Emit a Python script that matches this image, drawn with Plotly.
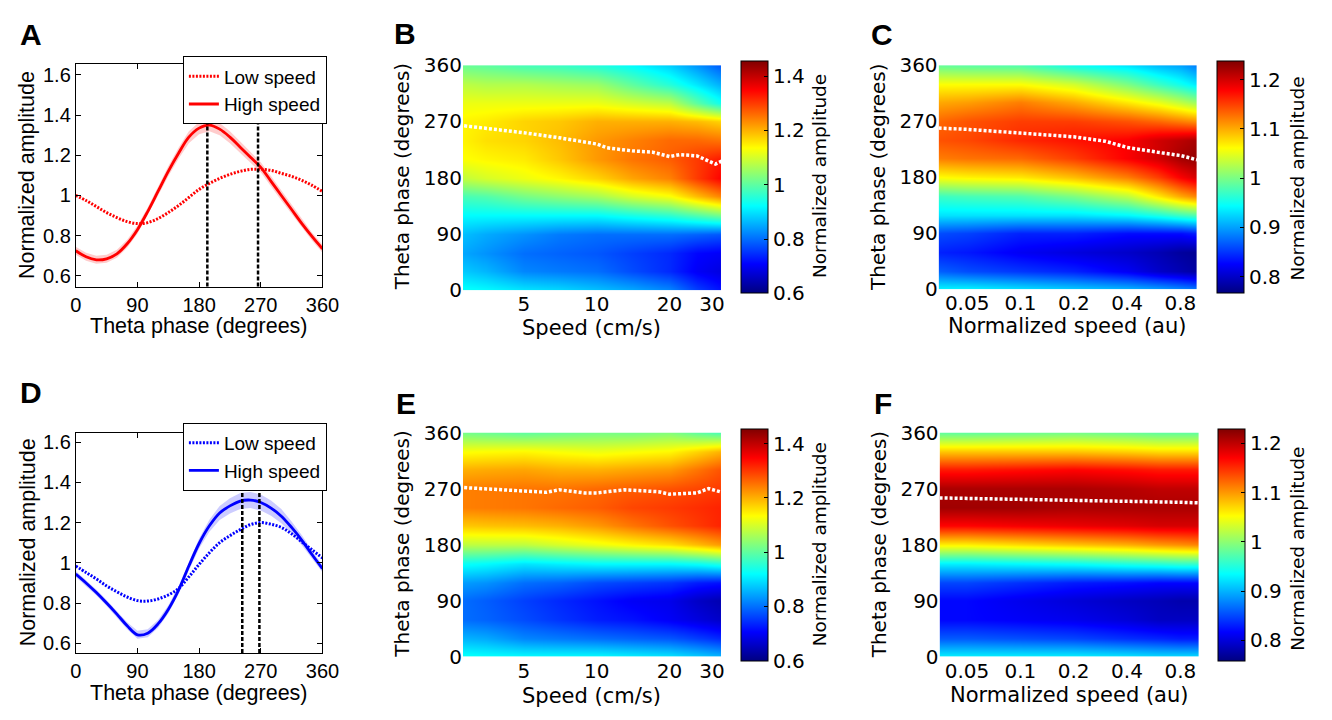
import math
import plotly.graph_objects as go

W, H = 1332, 720

# ---------------- line-plot data (panels A and D) ----------------
PHASE_DEG = [0, 15, 30, 45, 60, 75, 90, 105, 120, 135, 150, 165, 180,
             195, 210, 225, 240, 255, 270, 285, 300, 315, 330, 345, 360]

A_LOW = [1.00, 0.975, 0.945, 0.915, 0.89, 0.87, 0.86, 0.865, 0.885, 0.915, 0.95, 0.99, 1.03,
         1.06, 1.085, 1.105, 1.12, 1.13, 1.13, 1.125, 1.11, 1.095, 1.075, 1.05, 1.02]
A_HIGH = [0.725, 0.695, 0.68, 0.685, 0.71, 0.76, 0.83, 0.92, 1.02, 1.12, 1.21, 1.29, 1.335,
          1.35, 1.33, 1.29, 1.24, 1.19, 1.14, 1.07, 1.00, 0.93, 0.86, 0.795, 0.735]
A_HIGH_SEM = [0.02, 0.02, 0.02, 0.02, 0.02, 0.02, 0.02, 0.02, 0.022, 0.025, 0.027, 0.03, 0.03,
              0.03, 0.03, 0.03, 0.028, 0.027, 0.025, 0.025, 0.025, 0.022, 0.02, 0.02, 0.02]
A_PEAKS = [192, 266]

D_LOW = [0.984, 0.952, 0.92, 0.885, 0.856, 0.83, 0.812, 0.81, 0.82, 0.84, 0.872, 0.93, 0.992,
         1.05, 1.10, 1.135, 1.165, 1.19, 1.20, 1.192, 1.176, 1.144, 1.104, 1.064, 1.024]
D_HIGH = [0.944, 0.90, 0.852, 0.80, 0.745, 0.687, 0.642, 0.65, 0.696, 0.768, 0.864, 0.984, 1.096,
          1.184, 1.248, 1.283, 1.307, 1.312, 1.30, 1.272, 1.232, 1.176, 1.112, 1.04, 0.971]
D_HIGH_SEM = [0.015, 0.015, 0.015, 0.015, 0.017, 0.018, 0.02, 0.02, 0.02, 0.02, 0.02, 0.022, 0.025,
              0.03, 0.035, 0.038, 0.04, 0.04, 0.04, 0.038, 0.035, 0.03, 0.025, 0.02, 0.018]
D_PEAKS = [243, 268]

PHASE_TICKS = [0, 90, 180, 270, 360]
AMP_TICKS = [0.6, 0.8, 1.0, 1.2, 1.4, 1.6]
AMP_TICK_TEXT = ["0.6", "0.8", "1", "1.2", "1.4", "1.6"]

# ---------------- heat-map data (panels B, C, E, F) ----------------
HEAT_PHASE = [0, 30, 60, 90, 120, 150, 180, 210, 240, 270, 300, 330, 360]

SPEED_CM = [2.7, 3.5, 5, 7, 10, 14, 20, 26, 33]
# one list per speed column, values ordered by HEAT_PHASE
B_COLS = [
    [0.93, 0.88, 0.85, 0.87, 0.92, 0.98, 1.08, 1.13, 1.14, 1.14, 1.12, 1.08, 1.01],
    [0.92, 0.86, 0.83, 0.85, 0.92, 0.99, 1.10, 1.14, 1.16, 1.15, 1.12, 1.07, 1.00],
    [0.90, 0.82, 0.80, 0.83, 0.92, 1.02, 1.12, 1.15, 1.17, 1.17, 1.12, 1.07, 0.98],
    [0.89, 0.81, 0.79, 0.81, 0.92, 1.04, 1.14, 1.18, 1.19, 1.18, 1.12, 1.06, 0.97],
    [0.87, 0.80, 0.78, 0.80, 0.92, 1.06, 1.17, 1.22, 1.22, 1.20, 1.12, 1.05, 0.95],
    [0.85, 0.77, 0.76, 0.80, 0.94, 1.10, 1.21, 1.25, 1.24, 1.20, 1.10, 1.00, 0.92],
    [0.82, 0.74, 0.74, 0.80, 0.96, 1.13, 1.24, 1.27, 1.26, 1.20, 1.08, 0.95, 0.88],
    [0.76, 0.70, 0.71, 0.79, 0.99, 1.19, 1.30, 1.30, 1.26, 1.19, 1.00, 0.90, 0.83],
    [0.72, 0.68, 0.70, 0.78, 1.02, 1.24, 1.35, 1.33, 1.25, 1.17, 0.93, 0.85, 0.78],
]
B_PEAK_SPEED = [2.7, 3.5, 5, 7, 10, 11, 14, 17, 20, 22, 26, 31, 33]
B_PEAK_PHASE = [264, 259, 252, 244, 234, 228, 223, 221, 214, 217, 215, 202, 207]

E_COLS = [
    [0.93, 0.86, 0.80, 0.80, 0.84, 0.93, 1.08, 1.18, 1.24, 1.24, 1.20, 1.13, 1.02],
    [0.925, 0.85, 0.79, 0.785, 0.83, 0.92, 1.08, 1.185, 1.245, 1.245, 1.205, 1.135, 1.01],
    [0.92, 0.82, 0.77, 0.76, 0.80, 0.90, 1.08, 1.19, 1.25, 1.25, 1.21, 1.14, 1.00],
    [0.92, 0.81, 0.75, 0.74, 0.79, 0.91, 1.10, 1.20, 1.26, 1.25, 1.20, 1.13, 1.01],
    [0.92, 0.80, 0.73, 0.72, 0.77, 0.92, 1.12, 1.22, 1.27, 1.26, 1.20, 1.12, 1.02],
    [0.91, 0.79, 0.72, 0.70, 0.76, 0.92, 1.14, 1.25, 1.29, 1.27, 1.21, 1.13, 1.02],
    [0.90, 0.78, 0.70, 0.69, 0.75, 0.92, 1.16, 1.28, 1.30, 1.28, 1.22, 1.14, 1.03],
    [0.88, 0.76, 0.68, 0.66, 0.73, 0.93, 1.19, 1.30, 1.31, 1.29, 1.25, 1.17, 1.00],
    [0.86, 0.74, 0.66, 0.64, 0.72, 0.95, 1.22, 1.32, 1.32, 1.30, 1.28, 1.20, 0.98],
]
E_PEAK_SPEED = [2.7, 5, 6.2, 7, 8.9, 10, 13, 18, 20, 26, 29, 33]
E_PEAK_PHASE = [272, 267, 264, 268, 263, 263, 268, 265, 261, 263, 270, 264]

NSPEED = [0.034, 0.05, 0.1, 0.2, 0.4, 0.6, 0.8, 1.02]
C_COLS = [
    [0.94, 0.87, 0.84, 0.86, 0.93, 0.97, 1.06, 1.12, 1.14, 1.13, 1.10, 1.06, 0.99],
    [0.94, 0.86, 0.835, 0.855, 0.93, 0.975, 1.065, 1.125, 1.145, 1.14, 1.105, 1.06, 0.985],
    [0.93, 0.85, 0.82, 0.84, 0.93, 0.98, 1.07, 1.13, 1.16, 1.15, 1.12, 1.06, 0.98],
    [0.92, 0.84, 0.81, 0.84, 0.93, 1.00, 1.09, 1.15, 1.17, 1.15, 1.10, 1.04, 0.95],
    [0.91, 0.82, 0.80, 0.83, 0.94, 1.03, 1.12, 1.18, 1.18, 1.14, 1.07, 1.00, 0.93],
    [0.90, 0.80, 0.79, 0.83, 0.955, 1.07, 1.15, 1.20, 1.20, 1.13, 1.05, 0.97, 0.91],
    [0.89, 0.79, 0.78, 0.83, 0.97, 1.10, 1.18, 1.22, 1.21, 1.12, 1.03, 0.95, 0.90],
    [0.88, 0.78, 0.775, 0.84, 0.98, 1.12, 1.20, 1.23, 1.22, 1.11, 1.01, 0.93, 0.88],
]
C_PEAK_SPEED = [0.0345, 0.05, 0.1, 0.2, 0.3, 0.4, 0.6, 0.8, 0.993]
C_PEAK_PHASE = [259, 257, 251, 245, 238, 228, 220, 215, 208]

F_COLS = [
    [0.93, 0.86, 0.82, 0.82, 0.85, 0.93, 1.06, 1.17, 1.215, 1.21, 1.16, 1.08, 0.98],
    [0.93, 0.86, 0.82, 0.82, 0.85, 0.93, 1.06, 1.17, 1.215, 1.21, 1.16, 1.08, 0.98],
    [0.93, 0.855, 0.815, 0.81, 0.84, 0.935, 1.07, 1.175, 1.215, 1.21, 1.165, 1.08, 0.985],
    [0.93, 0.85, 0.81, 0.80, 0.83, 0.94, 1.08, 1.18, 1.21, 1.21, 1.17, 1.08, 0.99],
    [0.925, 0.84, 0.80, 0.79, 0.825, 0.95, 1.09, 1.185, 1.21, 1.205, 1.165, 1.075, 0.985],
    [0.92, 0.835, 0.79, 0.785, 0.82, 0.955, 1.10, 1.19, 1.21, 1.20, 1.16, 1.07, 0.98],
    [0.92, 0.83, 0.79, 0.78, 0.82, 0.96, 1.105, 1.19, 1.21, 1.20, 1.16, 1.07, 0.98],
    [0.92, 0.83, 0.79, 0.78, 0.82, 0.96, 1.11, 1.19, 1.21, 1.20, 1.16, 1.07, 0.98],
]
F_PEAK_SPEED = [0.035, 0.1, 0.2, 0.4, 0.8, 1.02]
F_PEAK_PHASE = [255, 253, 252, 250, 248, 247]

SPEED_TICKS = [5, 10, 20, 30]
NSPEED_TICKS = [0.05, 0.1, 0.2, 0.4, 0.8]
NSPEED_TICK_TEXT = ["0.05", "0.1", "0.2", "0.4", "0.8"]
CB1_TICKS = [0.6, 0.8, 1.0, 1.2, 1.4]
CB1_TEXT = ["0.6", "0.8", "1", "1.2", "1.4"]
CB2_TICKS = [0.8, 0.9, 1.0, 1.1, 1.2]
CB2_TEXT = ["0.8", "0.9", "1", "1.1", "1.2"]

JET = [[0.0, "rgb(0,0,128)"], [0.125, "rgb(0,0,255)"], [0.375, "rgb(0,255,255)"],
       [0.625, "rgb(255,255,0)"], [0.875, "rgb(255,0,0)"], [1.0, "rgb(128,0,0)"]]

ARIAL = "Liberation Sans"
WIDE = "DejaVu Sans"


def xd(x0, x1):
    return [x0 / W, x1 / W]


def yd(y0, y1):
    return [1 - y1 / H, 1 - y0 / H]


def transpose(cols):
    return [list(r) for r in zip(*cols)]


fig = go.Figure()

# ---------------- line panels ----------------
def line_panel(low, high, sem, color, band, xa, ya, legend):
    upper = [h + s for h, s in zip(high, sem)]
    lower = [h - s for h, s in zip(high, sem)]
    fig.add_trace(go.Scatter(x=PHASE_DEG + PHASE_DEG[::-1], y=upper + lower[::-1],
                             fill="toself", fillcolor=band, line=dict(width=0),
                             mode="lines", showlegend=False, hoverinfo="skip",
                             xaxis=xa, yaxis=ya))
    fig.add_trace(go.Scatter(x=PHASE_DEG, y=low, mode="lines", name="Low speed",
                             line=dict(color=color, width=3, dash="2px,1.5px", shape="spline"),
                             xaxis=xa, yaxis=ya, legend=legend))
    fig.add_trace(go.Scatter(x=PHASE_DEG, y=high, mode="lines", name="High speed",
                             line=dict(color=color, width=2.8, shape="spline"),
                             xaxis=xa, yaxis=ya, legend=legend))


line_panel(A_LOW, A_HIGH, A_HIGH_SEM, "rgb(255,0,0)", "rgba(255,0,0,0.2)", "x", "y", "legend")
line_panel(D_LOW, D_HIGH, D_HIGH_SEM, "rgb(0,0,255)", "rgba(0,0,255,0.2)", "x4", "y4", "legend2")

shapes = []
for xv in A_PEAKS:
    shapes.append(dict(type="line", xref="x", yref="y domain", x0=xv, x1=xv, y0=0, y1=1,
                       line=dict(color="black", width=2.5, dash="4px,2px")))
for xv in D_PEAKS:
    shapes.append(dict(type="line", xref="x4", yref="y4 domain", x0=xv, x1=xv, y0=0, y1=1,
                       line=dict(color="black", width=2.5, dash="4px,2px")))


# ---------------- heat maps ----------------
def heat_panel(xs, cols, zmin, zmax, xa, ya, cb_x, cb_y0, cb_y1, cbt, cbtext, px, py):
    fig.add_trace(go.Heatmap(x=xs, y=HEAT_PHASE, z=transpose(cols), zsmooth="best",
                             colorscale=JET, zmin=zmin, zmax=zmax, xaxis=xa, yaxis=ya,
                             colorbar=dict(x=cb_x / W, xanchor="left", xpad=0, ypad=0,
                                           y=1 - (cb_y0 + cb_y1) / 2 / H, yanchor="middle",
                                           len=cb_y1 - cb_y0, lenmode="pixels",
                                           thickness=27, thicknessmode="pixels",
                                           outlinecolor="black", outlinewidth=1,
                                           ticks="inside", ticklen=4, tickcolor="black",
                                           tickvals=cbt, ticktext=cbtext,
                                           tickfont=dict(family=WIDE, size=20, color="black"))))
    fig.add_trace(go.Scatter(x=px, y=py, mode="lines", showlegend=False,
                             line=dict(color="white", width=3.5, dash="3px,2px"),
                             xaxis=xa, yaxis=ya))


heat_panel(SPEED_CM, B_COLS, 0.6, 1.455, "x2", "y2", 748, 55, 287, CB1_TICKS, CB1_TEXT,
           B_PEAK_SPEED, B_PEAK_PHASE)
heat_panel(NSPEED, C_COLS, 0.766, 1.237, "x3", "y3", 1232, 55, 287, CB2_TICKS, CB2_TEXT,
           C_PEAK_SPEED, C_PEAK_PHASE)
heat_panel(SPEED_CM, E_COLS, 0.6, 1.455, "x5", "y5", 748, 435, 667, CB1_TICKS, CB1_TEXT,
           E_PEAK_SPEED, E_PEAK_PHASE)
heat_panel(NSPEED, F_COLS, 0.759, 1.23, "x6", "y6", 1233, 435, 667, CB2_TICKS, CB2_TEXT,
           F_PEAK_SPEED, F_PEAK_PHASE)

# ---------------- axes ----------------
line_axis = dict(showline=True, linecolor="black", linewidth=1, mirror="ticks",
                 ticks="inside", ticklen=5, tickcolor="black", showgrid=False, zeroline=False,
                 tickfont=dict(family=ARIAL, size=20, color="black"))
heat_axis = dict(showline=False, ticks="", showgrid=False, zeroline=False,
                 tickfont=dict(family=WIDE, size=20, color="black"))

fig.update_layout(
    xaxis=dict(domain=xd(71, 322), range=[0, 360], tickvals=PHASE_TICKS, anchor="y", **line_axis),
    yaxis=dict(domain=yd(54, 284), range=[0.547, 1.653], tickvals=AMP_TICKS,
               ticktext=AMP_TICK_TEXT, anchor="x", **line_axis),
    xaxis4=dict(domain=xd(71, 322), range=[0, 360], tickvals=PHASE_TICKS, anchor="y4", **line_axis),
    yaxis4=dict(domain=yd(435, 663), range=[0.552, 1.648], tickvals=AMP_TICKS,
                ticktext=AMP_TICK_TEXT, anchor="x4", **line_axis),
    xaxis2=dict(domain=xd(465, 728), type="log", range=[math.log10(2.8), math.log10(32.8)],
                tickvals=SPEED_TICKS, anchor="y2", **heat_axis),
    yaxis2=dict(domain=yd(55, 288), range=[0, 360], tickvals=PHASE_TICKS, anchor="x2", **heat_axis),
    xaxis5=dict(domain=xd(465, 728), type="log", range=[math.log10(2.8), math.log10(32.8)],
                tickvals=SPEED_TICKS, anchor="y5", **heat_axis),
    yaxis5=dict(domain=yd(435, 667), range=[0, 360], tickvals=PHASE_TICKS, anchor="x5", **heat_axis),
    xaxis3=dict(domain=xd(949, 1212), type="log", range=[math.log10(0.0345), math.log10(0.993)],
                tickvals=NSPEED_TICKS, ticktext=NSPEED_TICK_TEXT, anchor="y3", **heat_axis),
    yaxis3=dict(domain=yd(55, 287), range=[0, 360], tickvals=PHASE_TICKS, anchor="x3", **heat_axis),
    xaxis6=dict(domain=xd(950, 1214), type="log", range=[math.log10(0.035), math.log10(1.02)],
                tickvals=NSPEED_TICKS, ticktext=NSPEED_TICK_TEXT, anchor="y6", **heat_axis),
    yaxis6=dict(domain=yd(435, 667), range=[0, 360], tickvals=PHASE_TICKS, anchor="x6", **heat_axis),
)

legend_style = dict(bgcolor="white", bordercolor="black", borderwidth=1,
                    font=dict(family=ARIAL, size=19, color="black"),
                    xanchor="left", yanchor="top", tracegroupgap=0, itemwidth=30)
fig.update_layout(
    legend=dict(x=180 / W, y=1 - 46 / H, **legend_style),
    legend2=dict(x=180 / W, y=1 - 425 / H, **legend_style),
)

# ---------------- text annotations ----------------
ann = []


def text(t, x, y, family, size, angle=0, bold=False):
    ann.append(dict(text=("<b>%s</b>" % t) if bold else t, x=x / W, y=1 - y / H,
                    xref="paper", yref="paper", showarrow=False, textangle=angle,
                    xanchor="center", yanchor="middle",
                    font=dict(family=family, size=size, color="black")))


for letter, lx, ly in [("A", 25, 23), ("B", 406, 22), ("C", 891, 23),
                       ("D", 25, 394), ("E", 407, 405), ("F", 892, 405)]:
    text(letter, lx, ly, ARIAL, 30, bold=True)

text("Theta phase (degrees)", 196, 325, ARIAL, 21.5)
text("Normalized amplitude", 22, 169, ARIAL, 21.5, angle=-90)
text("Theta phase (degrees)", 196, 704, ARIAL, 21.5)
text("Normalized amplitude", 22, 549, ARIAL, 21.5, angle=-90)

text("Speed (cm/s)", 596, 327, WIDE, 21)
text("Theta phase (degrees)", 403, 171, WIDE, 20, angle=-90)
text("Speed (cm/s)", 596, 708, WIDE, 21)
text("Theta phase (degrees)", 403, 551, WIDE, 20, angle=-90)

text("Normalized speed (au)", 1080, 325, WIDE, 21)
text("Theta phase (degrees)", 888, 171, WIDE, 20, angle=-90)
text("Normalized speed (au)", 1082, 707, WIDE, 21)
text("Theta phase (degrees)", 888, 551, WIDE, 20, angle=-90)

text("Normalized amplitude", 828, 170, WIDE, 18.5, angle=-90)
text("Normalized amplitude", 828, 551, WIDE, 18.5, angle=-90)
text("Normalized amplitude", 1314, 172, WIDE, 18.5, angle=-90)
text("Normalized amplitude", 1314, 555, WIDE, 18.5, angle=-90)

fig.update_layout(width=W, height=H, margin=dict(l=0, r=0, t=0, b=0),
                  paper_bgcolor="white", plot_bgcolor="white",
                  annotations=ann, shapes=shapes, showlegend=True)

fig.write_html("out.html", config={"displayModeBar": False},
               post_script="document.body.style.margin='0';")
